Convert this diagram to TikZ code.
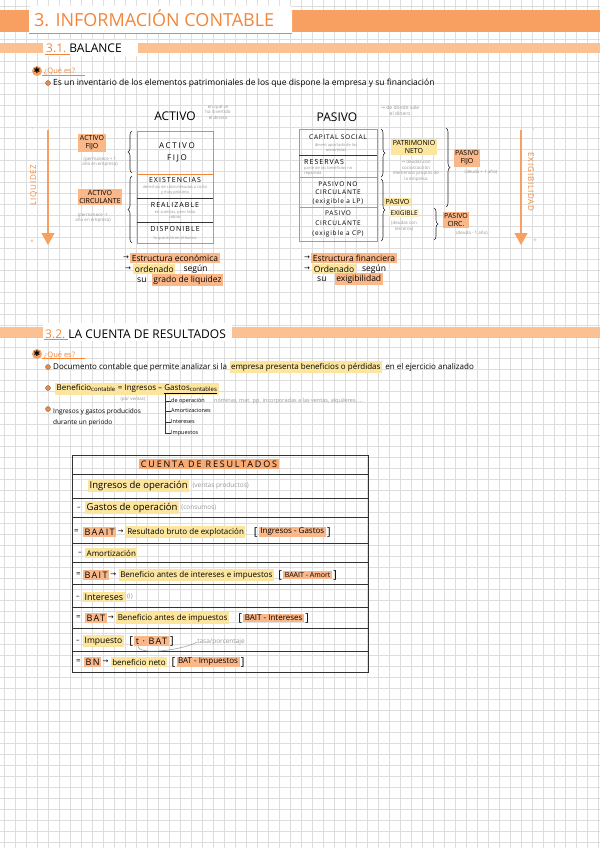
\documentclass[tikz,border=0pt]{standalone}
\usepackage{fontspec}
\setmainfont{Open Sans}
\newfontfamily\simbolos{DejaVu Sans}
\usetikzlibrary{positioning, arrows.meta, decorations.pathreplacing}

\definecolor{naranja}{RGB}{247,160,98}
\definecolor{naranjaclaro}{RGB}{251,193,146}
\definecolor{resaltenar}{RGB}{250,184,138}
\definecolor{resalteam}{RGB}{252,229,158}
\definecolor{textonar}{RGB}{244,134,58}
\definecolor{rejilla}{RGB}{222,222,222}
\definecolor{gristexto}{RGB}{150,150,150}

\newcommand{\tam}[2]{\fontsize{#1}{#2}\selectfont}
\newcommand{\fl}{{\simbolos →}}

\begin{document}
\begin{tikzpicture}[x=1pt, y=-1pt,
    every node/.style={inner sep=0pt, font=\tam{7}{8}},
    txt/.style={anchor=west},
    resnar/.style={anchor=west, fill=resaltenar, inner xsep=1.5pt, inner ysep=1.5pt},
    resam/.style={anchor=west, fill=resalteam, inner xsep=1.5pt, inner ysep=1.5pt},
    nota/.style={text=gristexto, font=\tam{4.5}{5.5}, align=center},
    mayus/.style={font={\tam{7}{9}\addfontfeature{LetterSpace=15}}},
    sigla/.style={font={\tam{9}{9}\addfontfeature{LetterSpace=15}}},
    fila/.style={font=\tam{8}{8}},
    corchete/.style={anchor=west, font=\tam{11}{11}},
    etiq/.style={font=\tam{7}{8}, align=center},
    borde/.style={draw=textonar, line width=0.9pt},
    linea/.style={draw=black!80, line width=0.7pt},
    llave/.style={draw=black!85, decorate, decoration={brace, amplitude=4pt}, line width=0.6pt},
    flechagrande/.style={draw=naranja, line width=1.4pt, -{Triangle[width=13pt, length=12pt]}},
    punto/.style={circle, fill=textonar, draw=black!60, line width=0.3pt, minimum size=5pt},
    icono/.style={circle, fill=naranja, minimum size=10pt, font=\simbolos\tam{8}{8}},
  ]
  \useasboundingbox (0,0) rectangle (600,848);
  \fill[white] (0,0) rectangle (600,848);

  % Rejilla de la hoja
  \foreach \i in {0,...,54}
    \draw[rejilla, line width=0.8pt] ({4.3+11*\i},0) -- ({4.3+11*\i},848);
  \foreach \j in {0,...,76}
    \draw[rejilla, line width=0.8pt] (0,{6+11*\j}) -- (600,{6+11*\j});

  % Titulo
  \fill[naranja] (0,10) rectangle (600,32);
  \fill[white, rounded corners=2pt] (29,6) rectangle (292,33);
  \node[anchor=base west, text=textonar, font=\tam{18}{18}] (titulo) at (34,27) {3. INFORMACIÓN CONTABLE};
  \draw[textonar, line width=0.8pt] (29,33) -- (292,33);

  % 3.1 Balance
  \fill[naranjaclaro] (0,43) rectangle (600,53);
  \fill[white] (43,40) rectangle (138,56);
  \node[anchor=base west, font=\tam{12}{12}] (sub1) at (46,53) {\textcolor{textonar}{3.1.}\ BALANCE};
  \draw[textonar, line width=0.5pt] (45,54.5) -- (70,54.5);

  \node[icono] (ast1) at (37,71) {✱};
  \node[anchor=base west, text=textonar, font=\tam{7.5}{8}] (que1) at (44,74) {¿Qué es?};
  \draw[textonar, line width=0.5pt] (ast1.east) ++(0,4) -- (85,75);
  \node[punto] (p1) at (48,83) {};
  \node[txt, font=\tam{8.5}{9}] (t1) at (53,83) {Es un inventario de los elementos patrimoniales de los que dispone la empresa y su financiación};

  % Activo
  \node[font=\tam{12}{12}] (activo) at (175,116) {ACTIVO};
  \node[nota] (activon) at (218,112) {en qué se\\ha invertido\\el dinero};
  \draw[borde] (137,131) rectangle (213,243);
  \draw[borde] (137,174) -- (213,174);
  \draw[linea] (137,198) -- (213,198);
  \draw[linea] (137,222) -- (213,222);
  \node[font={\tam{8}{12}\addfontfeature{LetterSpace=20}}, align=center] (actfijo) at (177,152) {ACTIVO\\FIJO};
  \node[mayus] (exist) at (175,180) {EXISTENCIAS};
  \node[nota, font=\tam{4}{5}] (existn) at (175,190) {derechos de cobro/deudas a corto\\y muy próximo};
  \node[mayus] (realiz) at (175,205) {REALIZABLE};
  \node[nota, font=\tam{4}{5}] (realizn) at (175,214) {en cuentas, pero falta\\cobrar};
  \node[mayus] (disp) at (175,229) {DISPONIBLE};
  \node[nota, font=\tam{4}{5}] (dispn) at (175,238) {lo que está en el banco};

  \draw[llave] (132,173) -- (132,131);
  \draw[llave] (132,243) -- (132,176);
  \node[resnar, etiq, anchor=center] (lactfijo) at (92,143) {ACTIVO\\FIJO};
  \node[nota] (lactfijon) at (100,162) {(permanece + 1\\año en empresa)};
  \node[resnar, etiq, anchor=center] (lactcirc) at (100,197) {ACTIVO\\CIRCULANTE};
  \node[nota] (lactcircn) at (93,218) {(permanece -1\\año en empresa)};

  \coordinate (liqini) at (48,130);
  \coordinate (liqfin) at (48,245);
  \draw[flechagrande] (liqini) -- (liqfin);
  \node[rotate=90, text=textonar, font={\tam{8}{8}\addfontfeature{LetterSpace=10}}] (liquidez) at (34,185) {LIQUIDEZ};
  \node[rotate=90, text=textonar, font=\tam{6}{6}] (liqmenos) at (33,129) {-};
  \node[text=textonar, font=\tam{6}{6}] (liqmas) at (32,242) {+};

  \node[txt] (a1f) at (123,258) {\fl};
  \node[resnar, right=1pt of a1f, font=\tam{8.5}{9}] (a1) {Estructura económica};
  \node[txt] (a2f) at (125,269) {\fl};
  \node[resam, right=2pt of a2f, font=\tam{8.5}{9}] (a2) {ordenado};
  \node[right=8pt of a2, font=\tam{8.5}{9}] (a2b) {según};
  \node[txt, font=\tam{8.5}{9}] (a3) at (137,280) {su};
  \node[resnar, right=5pt of a3, font=\tam{8.5}{9}] (a3b) {grado de liquidez};

  % Pasivo
  \node[font=\tam{12}{12}] (pasivo) at (337,117) {PASIVO};
  \node[nota, font=\tam{5}{6}] (pasivon) at (400,111) {\fl\ de dónde sale\\el dinero};
  \draw[borde] (299,129) rectangle (377,241);
  \draw[linea] (299,155) -- (377,155);
  \draw[borde] (299,177) -- (377,177);
  \draw[borde] (299,207) -- (377,207);
  \node[font={\tam{6.5}{8}\addfontfeature{LetterSpace=12}}] (capital) at (338,137) {CAPITAL SOCIAL};
  \node[nota, font=\tam{4}{5}] (capitaln) at (336,147) {dinero aportado de los\\accionistas};
  \node[mayus, anchor=west] (reservas) at (304,162) {RESERVAS};
  \node[nota, font=\tam{4}{5}, align=left, anchor=west] (reservasn) at (304,171) {parte de los beneficios no\\repartida};
  \node[font={\tam{6.5}{8.5}\addfontfeature{LetterSpace=12}}, align=center] (pnc) at (338,193) {PASIVO NO\\CIRCULANTE\\(exigible a LP)};
  \node[font={\tam{6.5}{10}\addfontfeature{LetterSpace=12}}, align=center] (pc) at (338,224) {PASIVO\\CIRCULANTE\\(exigible a CP)};

  \draw[llave] (381,129) -- (381,177);
  \draw[llave] (381,179) -- (381,241);
  \node[resam, etiq, anchor=center] (patneto) at (414,147) {PATRIMONIO\\NETO};
  \node[nota] (patneton) at (416,171) {\fl\ deudas con\\socios/acción\\elementos propios de\\la empresa};
  \node[resam, font=\tam{7}{8}] (pasexig) at (384,202) {PASIVO};
  \node[txt, fill=resalteam!60, inner sep=1.5pt, font=\tam{6.5}{8}] (exigible) at (389,213) {EXIGIBLE};
  \node[nota] (exigiblen) at (404,226) {(deudas con\\terceros)};

  \draw[llave] (446,128) -- (446,207);
  \node[resnar, etiq, anchor=center] (pasfijo) at (467,158) {PASIVO\\FIJO};
  \node[nota] (pasfijon) at (481,172) {(deuda + 1 año)};
  \draw[llave] (434,208) -- (434,240);
  \node[resnar, etiq, anchor=center] (pascirc) at (456,220) {PASIVO\\CIRC.};
  \node[nota] (pascircn) at (472,233) {(deuda - 1 año)};

  \coordinate (exiini) at (521,130);
  \coordinate (exifin) at (521,245);
  \draw[flechagrande] (exiini) -- (exifin);
  \node[rotate=-90, text=textonar, font={\tam{8}{8}\addfontfeature{LetterSpace=10}}] (exigib) at (531,182) {EXIGIBILIDAD};
  \node[rotate=-90, text=textonar, font=\tam{6}{6}] (eximenos) at (533,129) {-};
  \node[text=textonar, font=\tam{6}{6}] (eximas) at (535,241) {+};

  \node[txt] (p1f) at (304,258) {\fl};
  \node[resnar, right=1pt of p1f, font=\tam{8.5}{9}] (pp1) {Estructura financiera};
  \node[txt] (p2f) at (304,269) {\fl};
  \node[resam, right=2pt of p2f, font=\tam{8.5}{9}] (pp2) {Ordenado};
  \node[right=6pt of pp2, font=\tam{8.5}{9}] (pp2b) {según};
  \node[txt, font=\tam{8.5}{9}] (pp3) at (317,279) {su};
  \node[resnar, right=8pt of pp3, font=\tam{8.5}{9}] (pp3b) {exigibilidad};

  % 3.2 La cuenta de resultados
  \fill[naranjaclaro] (0,327) rectangle (600,338);
  \fill[white] (43,323) rectangle (232,341);
  \node[anchor=base west, font=\tam{12}{12}] (sub2) at (45,338) {\textcolor{textonar}{3.2.}\ LA CUENTA DE RESULTADOS};
  \draw[textonar, line width=0.5pt] (44,339.5) -- (68,339.5);

  \node[icono] (ast2) at (37,354) {✱};
  \node[anchor=base west, text=textonar, font=\tam{7.5}{8}] (que2) at (44,357) {¿Qué es?};
  \draw[textonar, line width=0.5pt] (ast2.east) ++(0,4) -- (85,358);

  \node[punto] (p21) at (48,367) {};
  \node[txt, font=\tam{8}{8}] (t21) at (53,367) {Documento contable que permite analizar si la};
  \node[resam, right=2pt of t21, font=\tam{8}{8}] (t21b) {empresa presenta beneficios o pérdidas};
  \node[right=3pt of t21b, font=\tam{8}{8}] (t21c) {en el ejercicio analizado};

  \node[punto] (p22) at (48,388) {};
  \node[resam, font=\tam{8}{8}] (benef) at (55,389) {Beneficio\textsubscript{contable} = Ingresos – \underline{Gastos\textsubscript{contables}}};
  \node[nota] (porventas) at (133,399) {(por ventas)};
  \coordinate (arbolini) at (165,394);
  \coordinate (arbolfin) at (165,433);
  \draw[linea, line width=0.5pt] (arbolini) -- (arbolfin);
  \foreach \y/\texto [count=\k] in {401/de operación, 411/Amortizaciones, 422/Intereses, 433/Impuestos} {
    \node[txt, font=\tam{5.5}{6}] (rama\k) at (171,\y) {\texto};
    \draw[linea, line width=0.5pt] (rama\k.west) -- ++(-6,0);
  }
  \node[nota, anchor=west, font=\tam{5.5}{6}] (operacionn) at (214,401) {nóminas, mat. pp. incorporadas a las ventas, alquileres, ...};

  \node[punto] (p23) at (48,409) {};
  \node[txt, align=left, font=\tam{6.5}{11}] (t23) at (53,417) {Ingresos y gastos producidos\\durante un periodo};

  % Cuenta de resultados
  \draw[linea] (72,455) rectangle (368,672);
  \foreach \y in {474,498,517,543,562,584,607,628,651}
    \draw[linea] (72,\y) -- (368,\y);
  \node[fill=naranja!90, inner xsep=2pt, inner ysep=2pt, font={\tam{9}{9}\addfontfeature{LetterSpace=20}}] (cuenta) at (209,464) {CUENTA DE RESULTADOS};

  \node[resam, font=\tam{9.5}{10}] (ingop) at (88,486) {Ingresos de operación};
  \node[right=3pt of ingop, text=gristexto, font=\tam{6.5}{7}] (ingopn) {(ventas productos)};

  \node[txt] (s2) at (77,508) {–};
  \node[resam, font=\tam{9.5}{10}] (gasop) at (85,508) {Gastos de operación};
  \node[right=2pt of gasop, text=gristexto, font=\tam{6.5}{7}] (gasopn) {(consumos)};

  \node[txt, font=\tam{8}{8}] (s3) at (74,532) {=};
  \node[resnar, sigla] (baait) at (83,532) {BAAIT};
  \node[right=1pt of baait] (f3) {\fl};
  \node[resam, fila, right=2pt of f3] (rbe) {Resultado bruto de explotación};
  \node[corchete, right=8pt of rbe] (c3a) {[};
  \node[resnar, fila, right=1pt of c3a] (ingas) {Ingresos - Gastos};
  \node[corchete, right=1pt of ingas] (c3b) {]};

  \node[txt] (s4) at (78,553) {–};
  \node[resam, font=\tam{8}{8}] (amort) at (85,553) {Amortización};

  \node[txt, font=\tam{8}{8}] (s5) at (76,575) {=};
  \node[resnar, sigla] (bait) at (83,575) {BAIT};
  \node[right=1pt of bait] (f5) {\fl};
  \node[resam, fila, right=2pt of f5] (baie) {Beneficio antes de intereses e impuestos};
  \node[corchete, right=4pt of baie] (c5a) {[};
  \node[resnar, font=\tam{7}{8}, right=1pt of c5a] (baaitam) {BAAIT - Amort};
  \node[corchete, right=1pt of baaitam] (c5b) {]};

  \node[txt] (s6) at (76,597) {–};
  \node[resam, font=\tam{9}{9}] (inter) at (83,597) {Intereses};
  \node[right=2pt of inter, text=gristexto, font=\tam{6.5}{7}] (intern) {(I)};

  \node[txt, font=\tam{8}{8}] (s7) at (76,618) {=};
  \node[resnar, sigla] (bat) at (85,618) {BAT};
  \node[right=1pt of bat] (f7) {\fl};
  \node[resam, fila, right=2pt of f7] (bai) {Beneficio antes de impuestos};
  \node[corchete, right=9pt of bai] (c7a) {[};
  \node[resnar, fila, right=1pt of c7a] (baitint) {BAIT - Intereses};
  \node[corchete, right=1pt of baitint] (c7b) {]};

  \node[txt] (s8) at (76,641) {–};
  \node[resam, font=\tam{8.5}{9}] (impu) at (83,641) {Impuesto};
  \node[corchete, right=5pt of impu] (c8a) {[};
  \node[resnar, sigla, right=1pt of c8a] (tbat) {t · BAT};
  \node[corchete, right=1pt of tbat] (c8b) {]};
  \node[text=gristexto, font=\tam{6.5}{7}] (tasa) at (221,642) {tasa/porcentaje};
  \draw[gristexto, line width=0.5pt] ([xshift=4pt]tbat.south west) .. controls +(0,10) and +(-14,8) .. (tasa.west);

  \node[txt, font=\tam{8}{8}] (s9) at (76,662) {=};
  \node[resnar, sigla] (bn) at (84,662) {BN};
  \node[right=1pt of bn] (f9) {\fl};
  \node[resam, fila, right=2pt of f9] (bneto) {beneficio neto};
  \node[corchete, right=4pt of bneto] (c9a) {[};
  \node[resnar, fila, right=1pt of c9a] (batimp) {BAT - Impuestos};
  \node[corchete, right=1pt of batimp] (c9b) {]};
\end{tikzpicture}
\end{document}
